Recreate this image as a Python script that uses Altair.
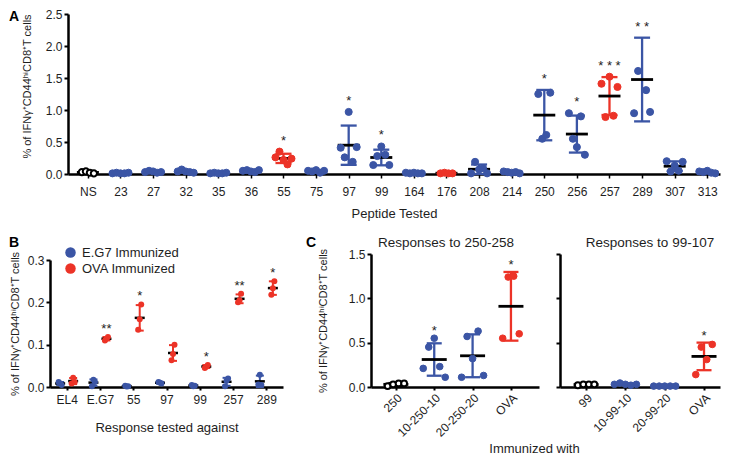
import altair as alt
import pandas as pd

FONT = "Liberation Sans"
BLUE = "#3b55a5"
RED = "#ec3327"
INK = "#1e1e1e"
Y_TITLE = "% of IFNγ⁺CD44ʰⁱCD8⁺T cells"

# ---------------- Panel A data ----------------
a_cats = ["NS", "23", "27", "32", "35", "36", "55", "75", "97", "99", "164",
          "176", "208", "214", "250", "256", "257", "289", "307", "313"]
a_group = ["open", "b", "b", "b", "b", "b", "r", "b", "b", "b", "b",
           "r", "b", "b", "b", "b", "r", "b", "b", "b"]
a_sig = ["", "", "", "", "", "", "*", "", "*", "*", "",
         "", "", "", "*", "*", "* * *", "* *", "", ""]
a_ns = [0.03, 0.04, 0.02, 0.01]
a_23 = [0.01, 0.02, 0.01, 0.01, 0.02]
a_27 = [0.03, 0.05, 0.04, 0.02, 0.03]
a_32 = [0.04, 0.07, 0.04, 0.03, 0.02]
a_35 = [0.01, 0.02, 0.01, 0.01, 0.02]
a_36 = [0.05, 0.06, 0.04, 0.03, 0.06]
a_55 = [0.26, 0.35, 0.22, 0.15, 0.24]
a_75 = [0.05, 0.04, 0.06, 0.02, 0.05]
a_97 = [0.41, 0.26, 0.97, 0.19, 0.42]
a_99 = [0.14, 0.28, 0.43, 0.30, 0.14]
a_164 = [0.02, 0.01, 0.02, 0.01, 0.01]
a_176 = [0.01, 0.02, 0.01, 0.01]
a_208 = [0.01, 0.19, 0.07, 0.09, 0.01]
a_214 = [0.04, 0.03, 0.02, 0.03, 0.01]
a_250 = [1.25, 0.55, 0.61, 1.27]
a_256 = [0.95, 0.55, 0.42, 0.90, 0.30]
a_257 = [1.41, 0.89, 1.52, 0.91, 1.36]
a_289 = [0.95, 1.61, 2.54, 1.31, 0.97]   # one value lies above the 2.5 axis limit
a_307 = [0.20, 0.04, 0.13, 0.05, 0.19]
a_313 = [0.04, 0.03, 0.05, 0.02, 0.01]
a_series = [a_ns, a_23, a_27, a_32, a_35, a_36, a_55, a_75, a_97, a_99, a_164,
            a_176, a_208, a_214, a_250, a_256, a_257, a_289, a_307, a_313]

# ---------------- Panel B data ----------------
b_cats = ["EL4", "E.G7", "55", "97", "99", "257", "289"]
b_names = ["E.G7 Immunized", "OVA Immunized"]
b_sig_ova = ["", "**", "*", "", "*", "**", "*"]
b_eg7 = [[0.012, 0.008, 0.005], [0.002, 0.017, 0.012], [0.003, 0.001, 0.002],
         [0.012, 0.010, 0.008], [0.005, 0.002, 0.003], [0.002, 0.015, 0.020],
         [0.006, 0.029, 0.005]]
b_ova = [[0.008, 0.022, 0.012], [0.110, 0.114, 0.118], [0.135, 0.160, 0.195],
         [0.063, 0.078, 0.100], [0.045, 0.048, 0.052], [0.200, 0.205, 0.220],
         [0.218, 0.233, 0.250]]

# ---------------- Panel C data ----------------
c1_cats = ["250", "10-250-10", "20-250-20", "OVA"]
c1_group = ["open", "b", "b", "r"]
c1_sig = ["", "*", "", "*"]
c1_250 = [0.01, 0.03, 0.04, 0.04]
c1_10_250_10 = [0.21, 0.45, 0.55, 0.23, 0.11]
c1_20_250_20 = [0.11, 0.57, 0.32, 0.63, 0.13]
c1_ova = [0.55, 1.24, 1.25, 0.60]

c2_cats = ["99", "10-99-10", "20-99-20", "OVA"]
c2_group = ["open", "b", "b", "r"]
c2_sig = ["", "", "", "*"]
c2_99 = [0.02, 0.03, 0.03, 0.03]
c2_10_99_10 = [0.03, 0.045, 0.03, 0.02, 0.03]
c2_20_99_20 = [0.01, 0.01, 0.01, 0.01, 0.01]
c2_ova = [0.14, 0.45, 0.31, 0.48]


def build_table(cats, groups, sigs, series):
    rows = []
    for c, g, s, vals in zip(cats, groups, sigs, series):
        for i, v in enumerate(vals):
            rows.append({"cat": c, "grp": g, "sig": s, "v": v, "i": i, "n": len(vals)})
    return pd.DataFrame(rows)


def panel_letter(letter, dx, dy):
    return alt.Chart(pd.DataFrame({"t": [letter]})).mark_text(
        fontSize=14, fontWeight="bold", font=FONT, color="black", align="left", baseline="top"
    ).encode(x=alt.value(dx), y=alt.value(dy), text="t:N")


FILL = f"datum.grp == 'open' ? '#ffffff' : (datum.grp == 'r' ? '{RED}' : '{BLUE}')"
LINE = f"datum.grp == 'open' ? '#000000' : (datum.grp == 'r' ? '{RED}' : '{BLUE}')"
OFFSCALE = alt.Scale(domain=[-40, 40], range=[-40, 40])


def scatter_panel(df, x_enc, y_scale, y_axis, ymax, spread, dot, open_dot,
                  mean_w, cap_w, line_w, mean_t, star_dy, extra=None):
    def Y(f):
        return alt.Y(f, scale=y_scale, axis=y_axis)

    base = alt.Chart(df)
    agg = base.transform_calculate(
        vis=f"datum.v <= {ymax} ? datum.v : 0"
    ).transform_aggregate(
        m="mean(v)", s="stdev(v)", mx="max(vis)", groupby=["cat", "grp", "sig"]
    ).transform_calculate(
        lo="datum.m - datum.s", hi="datum.m + datum.s",
        top="max(datum.mx, datum.m + datum.s)", lc=LINE
    )
    bar = agg.mark_rule(strokeWidth=line_w, opacity=1).encode(
        x=x_enc, y=Y("lo:Q"), y2="hi:Q", color=alt.Color("lc:N", scale=None))
    cap_hi = agg.mark_tick(size=cap_w, thickness=line_w, opacity=1).encode(
        x=x_enc, y=Y("hi:Q"), color=alt.Color("lc:N", scale=None))
    cap_lo = agg.mark_tick(size=cap_w, thickness=line_w, opacity=1).encode(
        x=x_enc, y=Y("lo:Q"), color=alt.Color("lc:N", scale=None))
    mean = agg.mark_tick(size=mean_w, thickness=mean_t, opacity=1, color="black").encode(
        x=x_enc, y=Y("m:Q"))
    pts = base.transform_filter(f"datum.v <= {ymax}").transform_calculate(
        off=f"(datum.i - (datum.n - 1) / 2) * {spread}",
        fc=FILL, sc=LINE,
        sw="datum.grp == 'open' ? 2 : 1",
        sz=f"datum.grp == 'open' ? {open_dot} : {dot}",
    ).mark_point(shape="circle", filled=True, opacity=1).encode(
        x=x_enc,
        xOffset=alt.XOffset("off:Q", scale=OFFSCALE),
        y=Y("v:Q"),
        fill=alt.Fill("fc:N", scale=None),
        stroke=alt.Stroke("sc:N", scale=None),
        strokeWidth=alt.StrokeWidth("sw:Q", scale=None),
        size=alt.Size("sz:Q", scale=None),
    )
    stars = agg.mark_text(baseline="alphabetic", dy=star_dy, fontSize=13, font=FONT,
                          color=INK).encode(x=x_enc, y=Y("top:Q"), text="sig:N")
    layers = [bar, cap_hi, cap_lo, mean, pts, stars]
    if extra is not None:
        layers.append(extra)
    return alt.layer(*layers)


# ---------------- Panel A ----------------
# The A view starts at the same left edge as panel B (concat origins line up);
# its y axis is moved inward so that the plotting area begins 18 px further right.
A_SHIFT = 18
df_a = build_table(a_cats, a_group, a_sig, a_series)
xa = alt.X("cat:N", sort=a_cats,
           scale=alt.Scale(type="point", padding=0.5, align=0.61, range=[A_SHIFT, 652 + A_SHIFT]),
           axis=alt.Axis(title="Peptide Tested", labelAngle=0, tickSize=4, tickWidth=1.5,
                         labelPadding=8, titlePadding=10, titleFontSize=13))
ya_scale = alt.Scale(domain=[0, 2.5], nice=False)
ya_axis = alt.Axis(values=[0, 0.5, 1.0, 1.5, 2.0, 2.5], format=".1f", title=Y_TITLE,
                   titleFontSize=11, titleX=-36, titleY=72, tickSize=4, labelPadding=2,
                   offset=-A_SHIFT)
chart_a = scatter_panel(df_a, xa, ya_scale, ya_axis, 2.5, 4, 50, 38,
                        22, 16, 2.3, 2.8, -7,
                        extra=panel_letter("A", -41, -4)).properties(
    width=652 + A_SHIFT, height=160)

# ---------------- Panel B ----------------
rows_b = []
for ci, c in enumerate(b_cats):
    for name, vals, sig in [(b_names[0], b_eg7[ci], ""), (b_names[1], b_ova[ci], b_sig_ova[ci])]:
        for i, v in enumerate(vals):
            rows_b.append({"cat": c, "grp": name, "sig": sig, "v": v, "i": i, "n": len(vals)})
df_b = pd.DataFrame(rows_b)

xb = alt.X("cat:N", sort=b_cats,
           scale=alt.Scale(type="point", padding=0.5, range=[0, 233]),
           axis=alt.Axis(title="Response tested against", labelAngle=0, tickSize=3,
                         labelPadding=4, titlePadding=16, titleFontSize=13))
yb_scale = alt.Scale(domain=[0, 0.3], range=[133, 6], nice=False)
yb_axis = alt.Axis(values=[0, 0.1, 0.2, 0.3], format=".1f", title=Y_TITLE, titleFontSize=11,
                   titleX=-30, tickSize=4, labelPadding=2)


def YB(f):
    return alt.Y(f, scale=yb_scale, axis=yb_axis)


OFFG = "datum.grp == 'OVA Immunized' ? 6.5 : -6.5"
LINEB = f"datum.grp == 'OVA Immunized' ? '{RED}' : '{BLUE}'"
base_b = alt.Chart(df_b)
agg_b = base_b.transform_aggregate(
    m="mean(v)", s="stdev(v)", mx="max(v)", groupby=["cat", "grp", "sig"]
).transform_calculate(
    lo="datum.m - datum.s", hi="datum.m + datum.s",
    top="max(datum.mx, datum.m + datum.s)", lc=LINEB, offg=OFFG
)
xo_g = alt.XOffset("offg:Q", scale=OFFSCALE)
b_bar = agg_b.mark_rule(strokeWidth=2, opacity=1).encode(
    x=xb, xOffset=xo_g, y=YB("lo:Q"), y2="hi:Q", color=alt.Color("lc:N", scale=None))
b_cap_hi = agg_b.mark_tick(size=8, thickness=2, opacity=1).encode(
    x=xb, xOffset=xo_g, y=YB("hi:Q"), color=alt.Color("lc:N", scale=None))
b_cap_lo = agg_b.mark_tick(size=8, thickness=2, opacity=1).encode(
    x=xb, xOffset=xo_g, y=YB("lo:Q"), color=alt.Color("lc:N", scale=None))
b_mean = agg_b.mark_tick(size=10, thickness=2.5, opacity=1, color="black").encode(
    x=xb, xOffset=xo_g, y=YB("m:Q"))
b_pts = base_b.transform_calculate(
    off=f"({OFFG}) + (datum.i - 1) * 1.5"
).mark_point(shape="circle", filled=True, opacity=1, size=36).encode(
    x=xb, xOffset=alt.XOffset("off:Q", scale=OFFSCALE), y=YB("v:Q"),
    color=alt.Color("grp:N", scale=alt.Scale(domain=b_names, range=[BLUE, RED]),
                    legend=alt.Legend(orient="none", legendX=14, legendY=-8, title=None,
                                      labelFontSize=13, labelFont=FONT, labelColor=INK,
                                      symbolType="circle", symbolSize=110, symbolOpacity=1,
                                      symbolStrokeWidth=0, rowPadding=2, labelOffset=5)))
b_stars = agg_b.mark_text(baseline="alphabetic", dy=-4, fontSize=13, font=FONT, color=INK).encode(
    x=xb, xOffset=xo_g, y=YB("top:Q"), text="sig:N")
chart_b = alt.layer(b_bar, b_cap_hi, b_cap_lo, b_mean, b_pts, b_stars,
                    panel_letter("B", -41, -18)).properties(width=300, height=133)

# ---------------- Panel C ----------------
yc_scale = alt.Scale(domain=[0, 1.5], nice=False)
df_c1 = build_table(c1_cats, c1_group, c1_sig, [c1_250, c1_10_250_10, c1_20_250_20, c1_ova])
df_c2 = build_table(c2_cats, c2_group, c2_sig, [c2_99, c2_10_99_10, c2_20_99_20, c2_ova])

xc1 = alt.X("cat:N", sort=c1_cats,
            scale=alt.Scale(type="point", padding=0.69, align=0.47),
            axis=alt.Axis(title="Immunized with", titleX=163, titleY=55, titleAlign="center",
                          titleBaseline="top", titleFontSize=13, labelAngle=-45,
                          labelAlign="right", labelBaseline="top", tickSize=3, labelPadding=2))
yc1_axis = alt.Axis(values=[0, 0.5, 1.0, 1.5], format=".1f", title=Y_TITLE, titleFontSize=11,
                    titleX=-43, tickSize=4, labelPadding=2)
chart_c1 = scatter_panel(df_c1, xc1, yc_scale, yc1_axis, 1.5, 5.5, 44, 34,
                         25, 15, 2.3, 2.8, -3, extra=panel_letter("C", -65, -18)).properties(
    width=168, height=133,
    title=alt.TitleParams("Responses to 250-258", fontSize=13.5, fontWeight="normal",
                          anchor="middle", dx=-9, offset=-13, color=INK, font=FONT))

xc2 = alt.X("cat:N", sort=c2_cats,
            scale=alt.Scale(type="point", padding=0.535, align=0.62),
            axis=alt.Axis(title=None, labelAngle=-45, labelAlign="right", labelBaseline="top",
                          tickSize=3, labelPadding=2))
yc2_axis = alt.Axis(values=[0, 0.5, 1.0, 1.5], labels=False, title=None, tickSize=4)
chart_c2 = scatter_panel(df_c2, xc2, yc_scale, yc2_axis, 1.5, 5.5, 44, 34,
                         25, 15, 2.3, 2.8, -3).properties(
    width=160, height=133,
    title=alt.TitleParams("Responses to 99-107", fontSize=13.5, fontWeight="normal",
                          anchor="middle", dx=10, offset=4, color=INK, font=FONT))

bottom = alt.hconcat(chart_b, chart_c1, chart_c2, spacing=21, bounds="flush").resolve_scale(
    color="independent").resolve_legend(color="independent")

chart = alt.vconcat(chart_a, bottom, spacing=15).resolve_scale(
    color="independent").resolve_legend(color="independent").properties(
    padding={"left": 0, "top": 0, "right": 0, "bottom": 0}
).configure_view(stroke=None).configure_axis(
    domainColor="black", domainWidth=2.5, tickColor="black", tickWidth=2,
    labelFont=FONT, labelFontSize=12, labelColor=INK, titleFont=FONT,
    titleFontWeight="normal", titleColor=INK, grid=False
).configure_title(font=FONT, color="black")

chart.save("out.html", embed_options={"renderer": "svg", "actions": False})
